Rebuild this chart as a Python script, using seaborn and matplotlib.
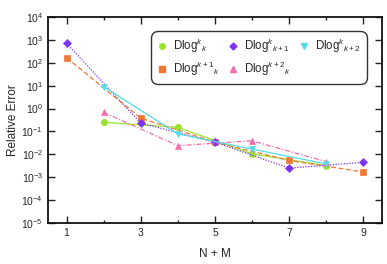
import numpy as np
import pandas as pd
import matplotlib
matplotlib.use("Agg")
import matplotlib.pyplot as plt
from matplotlib.lines import Line2D
from matplotlib.ticker import FixedLocator, LogLocator, NullLocator
import seaborn as sns

# series values
x_odd = [1, 3, 5, 7, 9]
x_even = [2, 4, 6, 8]
dlog_k_k = [0.25, 0.15, 0.0105, 0.0032]            # Dlog^k_k
dlog_k1_k = [165, 0.38, 0.034, 0.0054, 0.0017]     # Dlog^{k+1}_k
dlog_k_k1 = [700, 0.23, 0.034, 0.0025, 0.0045]     # Dlog^k_{k+1}
dlog_k2_k = [0.68, 0.024, 0.039, 0.0048]           # Dlog^{k+2}_k
dlog_k_k2 = [9.0, 0.078, 0.017, 0.0038]            # Dlog^k_{k+2}

labels = [r"Dlog$^{k}{}_{k}$", r"Dlog$^{k+1}{}_{k}$", r"Dlog$^{k}{}_{k+1}$",
          r"Dlog$^{k+2}{}_{k}$", r"Dlog$^{k}{}_{k+2}$"]

sns.set_style("ticks")
plt.rcParams['font.family'] = ['Liberation Sans', 'DejaVu Sans']
plt.rcParams['mathtext.fontset'] = 'custom'
plt.rcParams['mathtext.rm'] = 'Liberation Sans'
plt.rcParams['mathtext.it'] = 'Liberation Sans:italic'

fig = plt.figure(figsize=(3.87, 2.64), dpi=100)
ax = fig.add_axes([0.124, 0.155, 0.863, 0.781])

series = [
    (x_even, dlog_k_k, "#9be22d", "o", "-", 4.5),
    (x_odd, dlog_k1_k, "#f07836", "s", (0, (4, 2)), 4.5),
    (x_odd, dlog_k_k1, "#7b35f0", "D", (0, (1, 1.2)), 4.0),
    (x_even, dlog_k2_k, "#f06eaa", "^", (0, (4, 1.5, 1, 1.5)), 4.5),
    (x_even, dlog_k_k2, "#55dcea", "v", "-", 4.5),
]

handles = []
for (xs, ys, col, mk, ls, ms), lab in zip(series, labels):
    df = pd.DataFrame({"x": xs, "y": ys})
    sns.lineplot(data=df, x="x", y="y", ax=ax, color=col, marker=mk,
                 linestyle=ls, linewidth=0.9, markersize=ms,
                 markeredgecolor=col, markeredgewidth=0.5, legend=False)
    handles.append(Line2D([], [], color=col, marker=mk, linestyle="none",
                          markersize=ms - 0.5, markeredgecolor=col, label=lab))

ax.set_yscale("log")
ax.set_ylim(1e-5, 1e4)
ax.set_xlim(0.5, 9.5)
ax.yaxis.set_major_locator(LogLocator(base=10, numticks=20))
ax.yaxis.set_minor_locator(NullLocator())
ax.xaxis.set_major_locator(FixedLocator([1, 3, 5, 7, 9]))
ax.xaxis.set_minor_locator(FixedLocator([2, 4, 6, 8]))

ax.tick_params(which="both", direction="in", top=True, right=True,
               labelsize=7.5, width=1.0, color="#222222")
ax.tick_params(which="major", length=5)
ax.tick_params(which="minor", length=2.5)
for sp in ax.spines.values():
    sp.set_linewidth(1.3)
    sp.set_color("#111111")

ax.set_xlabel("N + M", fontsize=8.5, labelpad=7)
ax.set_ylabel("Relative Error", fontsize=8.5, labelpad=2)

leg = ax.legend(handles=handles, ncol=3, loc="upper right",
                bbox_to_anchor=(0.955, 0.93), fontsize=8.3,
                frameon=True, fancybox=True, handlelength=0.9,
                handletextpad=0.5, columnspacing=0.75, labelspacing=0.42,
                borderpad=0.5, borderaxespad=0)
leg.get_frame().set_edgecolor("black")
leg.get_frame().set_linewidth(1.0)
leg.get_frame().set_boxstyle("round,pad=0,rounding_size=0.6")

fig.savefig("out.png", dpi=100)
